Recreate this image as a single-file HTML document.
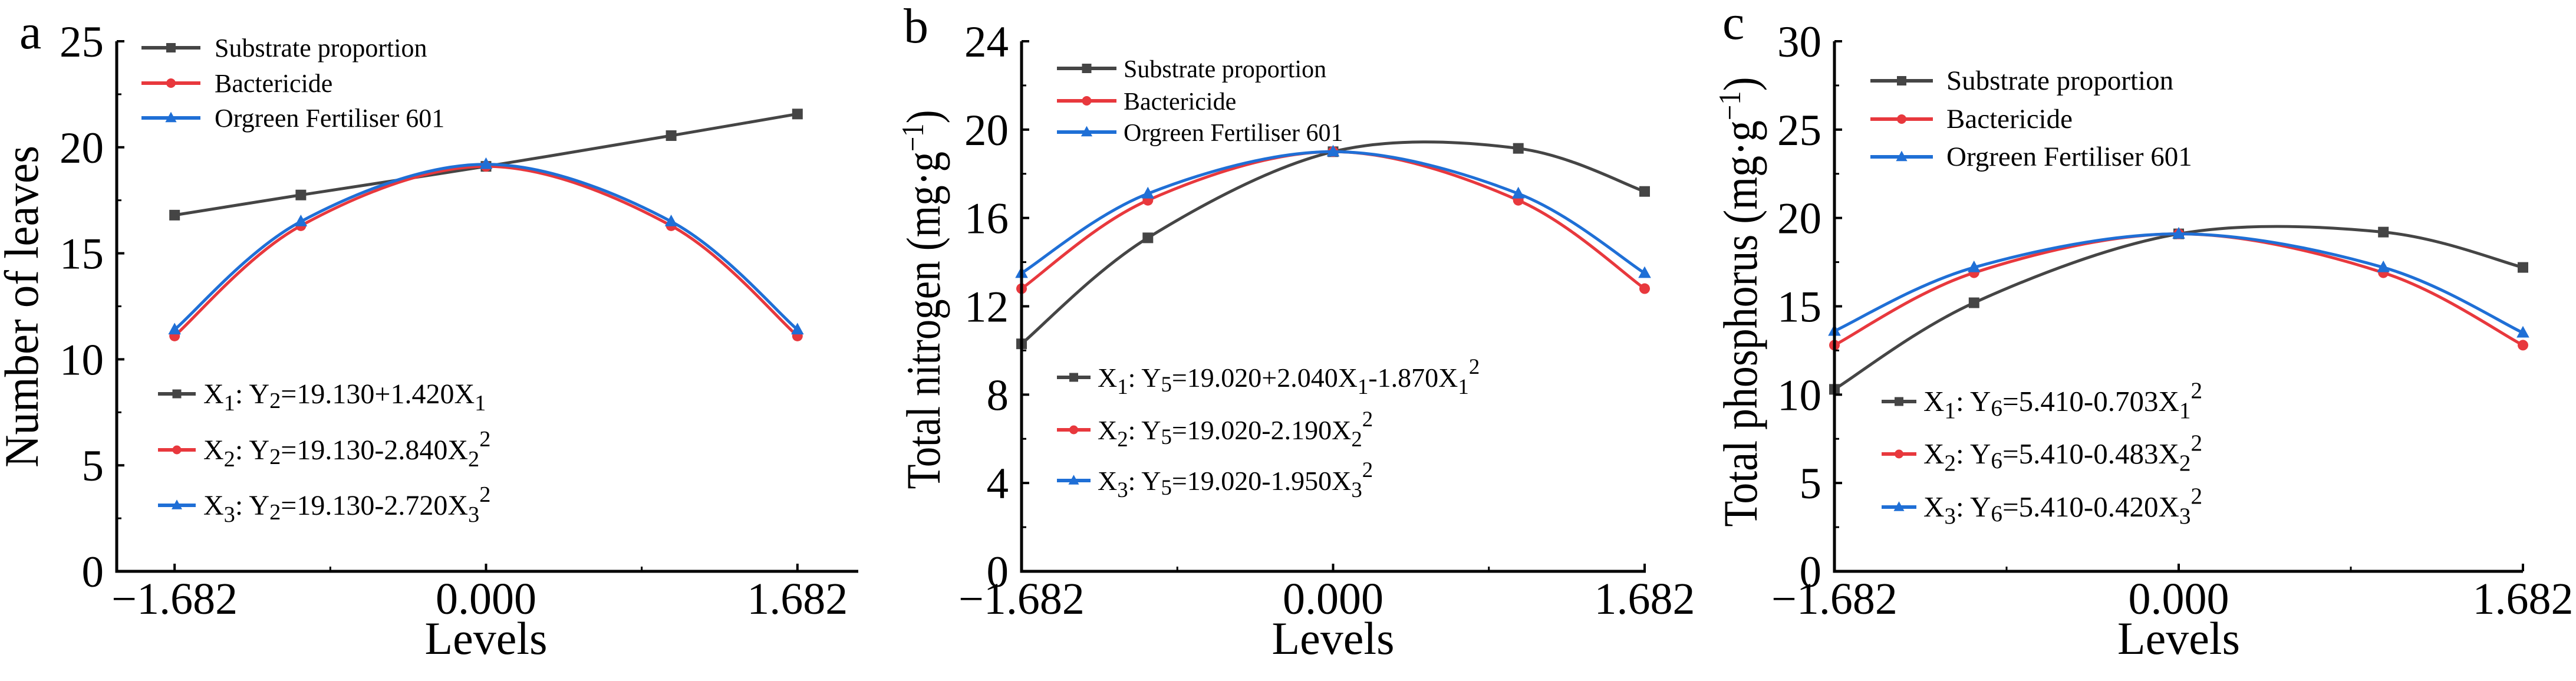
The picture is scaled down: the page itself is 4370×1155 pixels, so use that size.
<!DOCTYPE html>
<html><head><meta charset="utf-8"><style>
html,body{margin:0;padding:0;background:#fff;}
svg{display:block;font-family:"Liberation Serif",serif;}
</style></head><body>
<svg id="fig" width="4370" height="1155" viewBox="0 0 4370 1155"></svg>
<script>
const levels = [-1.682, -1, 0, 1, 1.682];
const xTickLabels = ["\u22121.682", "0.000", "1.682"];
const xTickValues = [-1.682, 0, 1.682];
const seriesNames = ["Substrate proportion", "Bactericide", "Orgreen Fertiliser 601"];
const leavesSubstrate = [16.8, 17.75, 19.1, 20.55, 21.57];
const leavesBactericide = [11.1, 16.3, 19.1, 16.3, 11.1];
const leavesFertiliser = [11.4, 16.5, 19.2, 16.5, 11.4];
const nitrogenSubstrate = [10.3, 15.1, 19.0, 19.15, 17.2];
const nitrogenBactericide = [12.8, 16.8, 19.0, 16.8, 12.8];
const nitrogenFertiliser = [13.5, 17.1, 19.0, 17.1, 13.5];
const phosSubstrate = [10.3, 15.2, 19.1, 19.2, 17.2];
const phosBactericide = [12.8, 16.9, 19.1, 16.9, 12.8];
const phosFertiliser = [13.6, 17.2, 19.1, 17.2, 13.5];
const yTicksA = [0, 5, 10, 15, 20, 25];
const yTicksB = [0, 4, 8, 12, 16, 20, 24];
const yTicksC = [0, 5, 10, 15, 20, 25, 30];
const eqA = [["X","1",": Y","2","=19.130+1.420X","1",""],["X","2",": Y","2","=19.130-2.840X","2","2"],["X","3",": Y","2","=19.130-2.720X","3","2"]];
const eqB = [["X","1",": Y","5","=19.020+2.040X","1","-1.870X|1|2"],["X","2",": Y","5","=19.020-2.190X","2","2"],["X","3",": Y","5","=19.020-1.950X","3","2"]];
const eqC = [["X","1",": Y","6","=5.410-0.703X","1","2"],["X","2",": Y","6","=5.410-0.483X","2","2"],["X","3",": Y","6","=5.410-0.420X","3","2"]];

const NS = "http://www.w3.org/2000/svg";
const svg = document.getElementById('fig');
const colors = ["#454545", "#e8383d", "#1f6fd6"];
const markers = ["square", "circle", "triangle"];

function mk(tag, attrs, parent) {
  const e = document.createElementNS(NS, tag);
  for (const k in attrs) e.setAttribute(k, attrs[k]);
  (parent || svg).appendChild(e);
  return e;
}
function marker(g, type, x, y, c, s) {
  let m;
  if (type === "square") m = mk('rect', {x: x - s/2, y: y - s/2, width: s, height: s, fill: c}, g);
  else if (type === "circle") m = mk('circle', {cx: x, cy: y, r: s/2, fill: c}, g);
  else m = mk('polygon', {points: `${x},${y - s*0.65} ${x - s*0.6},${y + s*0.45} ${x + s*0.6},${y + s*0.45}`, fill: c}, g);
  return m;
}
function smoothPath(pts) {
  let d = `M${pts[0][0]},${pts[0][1]}`;
  for (let i = 0; i < pts.length - 1; i++) {
    const p0 = pts[Math.max(0, i - 1)], p1 = pts[i], p2 = pts[i + 1], p3 = pts[Math.min(pts.length - 1, i + 2)];
    const c1x = p1[0] + (p2[0] - p0[0]) / 6, c1y = p1[1] + (p2[1] - p0[1]) / 6;
    const c2x = p2[0] - (p3[0] - p1[0]) / 6, c2y = p2[1] - (p3[1] - p1[1]) / 6;
    d += ` C${c1x},${c1y} ${c2x},${c2y} ${p2[0]},${p2[1]}`;
  }
  return d;
}

function panel(cfg) {
  const g = mk('g', {});
  
  
  const xs = v => cfg.x0 + (v - cfg.xmin) / (cfg.xmax - cfg.xmin) * (cfg.x1 - cfg.x0);
  const ys = v => cfg.yb - v / cfg.ymax * (cfg.yb - cfg.yt);
  cfg.series.forEach((vals, si) => {
    const pts = levels.map((lv, i) => [xs(lv), ys(vals[i])]);
    const p = mk('path', {d: smoothPath(pts), fill: 'none', stroke: colors[si], 'stroke-width': 5}, g);
    
    
    pts.forEach(pt => {
      const m = marker(g, markers[si], pt[0], pt[1], colors[si], 18);
      
      
    });
  });
  const ax = mk('path', {d: `M${cfg.x0},${cfg.yt} V${cfg.yb} H${cfg.x1}`, fill: 'none', stroke: '#000', 'stroke-width': 5}, g);
  
  
  cfg.yticks.forEach((t, i) => {
    const y = ys(t);
    mk('line', {x1: cfg.x0, x2: cfg.x0 + 13, y1: y, y2: y, stroke: '#000', 'stroke-width': 4}, g);
    if (i < cfg.yticks.length - 1) {
      const ym = ys((t + cfg.yticks[i + 1]) / 2);
      mk('line', {x1: cfg.x0, x2: cfg.x0 + 8, y1: ym, y2: ym, stroke: '#000', 'stroke-width': 3}, g);
    }
    const tx = mk('text', {x: cfg.x0 - 22, y: y + 26, 'font-size': 75, 'text-anchor': 'end'}, g);
    tx.textContent = t;
    
    
  });
  xTickValues.forEach((v, i) => {
    const x = xs(v);
    mk('line', {x1: x, x2: x, y1: cfg.yb, y2: cfg.yb - 13, stroke: '#000', 'stroke-width': 4}, g);
    const tx = mk('text', {x: x, y: cfg.yb + 72, 'font-size': 76, 'text-anchor': 'middle'}, g);
    tx.textContent = xTickLabels[i];
    
    
  });
  [-0.841, 0.841].forEach(v => {
    const x = xs(v);
    mk('line', {x1: x, x2: x, y1: cfg.yb, y2: cfg.yb - 8, stroke: '#000', 'stroke-width': 3}, g);
  });
  const xl = mk('text', {x: xs(0), y: cfg.yb + 140, 'font-size': 78, 'text-anchor': 'middle'}, g);
  xl.textContent = "Levels";
  
  
  const yl = mk('text', {x: 0, y: 0, 'font-size': 82, 'text-anchor': 'middle', textLength: cfg.ylen, lengthAdjust: 'spacingAndGlyphs', transform: `translate(${cfg.ylx},${cfg.yly}) rotate(-90)`}, g);
  yl.innerHTML = cfg.ytitle;
  
  
  const pl = mk('text', {x: cfg.lx, y: cfg.ly, 'font-size': 84}, g);
  pl.textContent = cfg.letter;
  
  
  seriesNames.forEach((n, i) => {
    const y = cfg.leg.y[i];
    const lg = mk('g', {}, g);
    
    
    mk('line', {x1: cfg.leg.x1, x2: cfg.leg.x2, y1: y, y2: y, stroke: colors[i], 'stroke-width': 6}, lg);
    marker(lg, markers[i], (cfg.leg.x1 + cfg.leg.x2) / 2, y, colors[i], 16);
    const t = mk('text', {x: cfg.leg.tx, y: y + 15, 'font-size': cfg.leg.fs}, lg);
    t.textContent = n;
  });
  cfg.eq.forEach((e, i) => {
    const y = cfg.eql.y[i];
    const lg = mk('g', {}, g);
    
    
    mk('line', {x1: cfg.eql.x1, x2: cfg.eql.x2, y1: y, y2: y, stroke: colors[i], 'stroke-width': 6}, lg);
    marker(lg, markers[i], (cfg.eql.x1 + cfg.eql.x2) / 2, y, colors[i], 15);
    const t = mk('text', {x: cfg.eql.tx, y: y + 16, 'font-size': cfg.eql.fs}, lg);
    let h = `${e[0]}<tspan dy="12" font-size="0.8em">${e[1]}</tspan><tspan dy="-12">${e[2]}</tspan><tspan dy="8" font-size="0.8em">${e[3]}</tspan><tspan dy="-8">${e[4]}</tspan><tspan dy="12" font-size="0.8em">${e[5]}</tspan>`;
    if (e[6].indexOf('|') >= 0) {
      const p = e[6].split('|');
      h += `<tspan dy="-12">${p[0]}</tspan><tspan dy="12" font-size="0.8em">${p[1]}</tspan><tspan dy="-34" font-size="0.8em">${p[2]}</tspan>`;
    } else if (e[6]) {
      h += `<tspan dy="-34" font-size="0.8em">${e[6]}</tspan>`;
    }
    t.innerHTML = h;
  });
}

panel({name: 'panel-a-leaves', x0: 198, x1: 1456, xmin: -1.682 - (296 - 198) / 313.5, xmax: 1.682 + (1456 - 1353) / 313.5,
  yt: 70, yb: 969, ymax: 25, yticks: yTicksA,
  series: [leavesSubstrate, leavesBactericide, leavesFertiliser],
  ytitle: 'Number of leaves', ylen: 546, ylx: 64, yly: 520, letter: 'a', lx: 33, ly: 82,
  leg: {x1: 240, x2: 340, tx: 364, y: [81, 141, 200], fs: 44},
  eq: eqA, eql: {x1: 268, x2: 332, tx: 345, y: [668, 763, 857], fs: 48}});
panel({name: 'panel-b-nitrogen', x0: 1733, x1: 2792, xmin: -1.682, xmax: 1.682 + 2 / 314,
  yt: 70, yb: 969, ymax: 24, yticks: yTicksB,
  series: [nitrogenSubstrate, nitrogenBactericide, nitrogenFertiliser],
  ytitle: 'Total nitrogen (mg·g<tspan dy="-28" font-size="0.65em">\u22121</tspan><tspan dy="28">)</tspan>', ylen: 643, ylx: 1594, yly: 508, letter: 'b', lx: 1533, ly: 72,
  leg: {x1: 1793, x2: 1894, tx: 1906, y: [116, 171, 224], fs: 42},
  eq: eqB, eql: {x1: 1793, x2: 1850, tx: 1862, y: [640, 729, 815], fs: 46}});
panel({name: 'panel-c-phosphorus', x0: 3112, x1: 4280, xmin: -1.682, xmax: 1.682,
  yt: 70, yb: 969, ymax: 30, yticks: yTicksC,
  series: [phosSubstrate, phosBactericide, phosFertiliser],
  ytitle: 'Total phosphorus (mg·g<tspan dy="-28" font-size="0.65em">\u22121</tspan><tspan dy="28">)</tspan>', ylen: 763, ylx: 2980, yly: 512, letter: 'c', lx: 2922, ly: 66,
  leg: {x1: 3173, x2: 3279, tx: 3302, y: [137, 202, 266], fs: 47},
  eq: eqC, eql: {x1: 3192, x2: 3251, tx: 3263, y: [681, 770, 860], fs: 49}});
</script>
</body></html>
